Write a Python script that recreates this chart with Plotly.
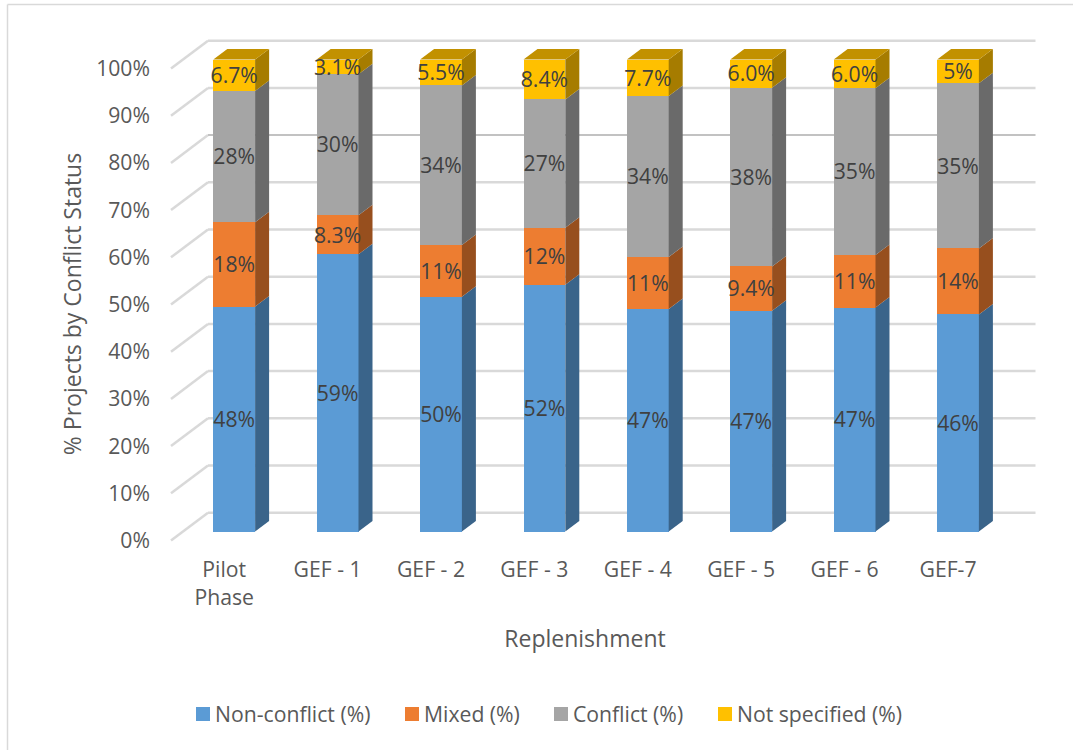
import plotly.graph_objects as go

# Project shares per GEF replenishment, stacked to 100% per phase
categories = ["Pilot<br>Phase", "GEF - 1", "GEF - 2", "GEF - 3", "GEF - 4", "GEF - 5", "GEF - 6", "GEF-7"]
non_conflict = [48, 59, 50, 52, 47, 47, 47, 46]
mixed = [18, 8.3, 11, 12, 11, 9.4, 11, 14]
conflict = [28, 30, 34, 27, 34, 38, 35, 35]
not_specified = [6.7, 3.1, 5.5, 8.4, 7.7, 6.0, 6.0, 5]
not_specified_text = ["6.7%", "3.1%", "5.5%", "8.4%", "7.7%", "6.0%", "6.0%", "5%"]
y_ticks = [0, 10, 20, 30, 40, 50, 60, 70, 80, 90, 100]

series = [
    ("Non-conflict (%)", non_conflict, [f"{v:g}%" for v in non_conflict], "#5B9BD5", "#3A648A"),
    ("Mixed (%)", mixed, [f"{v:g}%" for v in mixed], "#ED7D31", "#974F1E"),
    ("Conflict (%)", conflict, [f"{v:g}%" for v in conflict], "#A5A5A5", "#6A6A6A"),
    ("Not specified (%)", not_specified, not_specified_text, "#FFC000", "#A67C00"),
]
TOP_FACE = "#C29100"

# Page and plot geometry, in pixels
W, H = 1073, 750
PLOT_L, PLOT_R, PLOT_T, PLOT_B = 171, 999, 30, 578
ZERO_X, SLOT = 234.2, 103.4
ZERO_Y, UNIT = 531.6, 4.72
BAR_PX = 41.8
DEPTH_X, DEPTH_Y = 14 / SLOT, 10.5 / UNIT
FLOOR_FRONT = (ZERO_Y - 540.5) / UNIT
FLOOR_BACK = (ZERO_Y - 512.7) / UNIT
LABEL_DROP = 2.5 / UNIT
half = BAR_PX / SLOT / 2
xs = list(range(len(categories)))
totals = [sum(s[1][i] for s in series) for i in xs]

TEXT = "#595959"
FONT = "Open Sans"
FS = 21.2
TITLE_FS = 23


def px(v):
    return v / W


fig = go.Figure()

# Front faces: a percent-normalised stack
for name, vals, _, color, _ in series:
    fig.add_bar(x=xs, y=vals, name=name, width=2 * half, marker=dict(color=color, line=dict(width=0)),
                showlegend=False, hoverinfo="skip", cliponaxis=False)

# Side faces, one parallelogram per stacked segment, and the data labels
label_x, label_y, label_t = [], [], []
base = [0.0] * len(xs)
for name, vals, texts, color, side in series:
    for i in xs:
        share = vals[i] / totals[i] * 100
        lo, hi = base[i], base[i] + share
        r = i + half
        fig.add_scatter(x=[r, r + DEPTH_X, r + DEPTH_X, r, r],
                        y=[lo, lo + DEPTH_Y, hi + DEPTH_Y, hi, lo],
                        mode="lines", line=dict(width=0), fill="toself", fillcolor=side,
                        showlegend=False, hoverinfo="skip", cliponaxis=False)
        label_x.append(i)
        label_y.append((lo + hi) / 2 - LABEL_DROP)
        label_t.append(texts[i])
        base[i] = hi

# Top faces of the stacks
for i in xs:
    l, r = i - half, i + half
    fig.add_scatter(x=[l, r, r + DEPTH_X, l + DEPTH_X, l],
                    y=[base[i], base[i], base[i] + DEPTH_Y, base[i] + DEPTH_Y, base[i]],
                    mode="lines", line=dict(width=0), fill="toself", fillcolor=TOP_FACE,
                    showlegend=False, hoverinfo="skip", cliponaxis=False)

fig.add_scatter(x=label_x, y=label_y, text=label_t, mode="text", textposition="middle center",
                textfont=dict(family=FONT, size=FS, color="#404040"),
                showlegend=False, hoverinfo="skip", cliponaxis=False)

shapes = []
# Gridlines: a slanted run across the floor depth, then along the back wall
for v in y_ticks:
    back = dict(color="#C2C2C2", width=2) if v == 80 else dict(color="#D9D9D9", width=2.5)
    shapes.append(dict(type="line", xref="paper", yref="y", layer="below",
                       x0=px(171), x1=px(208), y0=v + FLOOR_FRONT, y1=v + FLOOR_BACK,
                       line=dict(color="#D9D9D9", width=2.5)))
    shapes.append(dict(type="line", xref="paper", yref="y", layer="below",
                       x0=px(208), x1=px(1035.5), y0=v + FLOOR_BACK, y1=v + FLOOR_BACK,
                       line=back))

# Chart frame
shapes.append(dict(type="line", xref="paper", yref="paper", x0=px(7.5), x1=px(7.5), y0=0, y1=1 - 4.5 / H,
                   line=dict(color="#D9D9D9", width=1.5)))
shapes.append(dict(type="line", xref="paper", yref="paper", x0=px(7.5), x1=1, y0=1 - 4.5 / H, y1=1 - 4.5 / H,
                   line=dict(color="#D9D9D9", width=1.5)))

# Legend row
annotations = []
legend_swatch_x = [196, 405, 554, 718]
for (name, _, _, color, _), sx in zip(series, legend_swatch_x):
    shapes.append(dict(type="rect", xref="paper", yref="paper", x0=px(sx), x1=px(sx + 14),
                       y0=1 - 721 / H, y1=1 - 707 / H, fillcolor=color, line=dict(width=0)))
    annotations.append(dict(xref="paper", yref="paper", x=px(sx + 18), y=1 - 713 / H, text=name,
                            showarrow=False, xanchor="left", yanchor="middle",
                            font=dict(family=FONT, size=FS, color=TEXT), borderpad=0))

fig.update_layout(
    width=W, height=H, barmode="stack", barnorm="percent",
    margin=dict(l=0, r=0, t=0, b=0), paper_bgcolor="white", plot_bgcolor="rgba(0,0,0,0)",
    shapes=shapes, annotations=annotations, showlegend=False,
    xaxis=dict(domain=[px(PLOT_L), px(PLOT_R)], anchor="free", position=1 - 555 / H,
               range=[(PLOT_L - ZERO_X) / SLOT, (PLOT_R - ZERO_X) / SLOT],
               tickmode="array", tickvals=[x - 10 / SLOT for x in xs], ticktext=categories,
               tickfont=dict(family=FONT, size=FS, color=TEXT), showgrid=False, zeroline=False,
               showline=False, ticks="", title=dict(text="Replenishment", standoff=21,
               font=dict(family=FONT, size=TITLE_FS, color=TEXT))),
    yaxis=dict(domain=[1 - PLOT_B / H, 1 - PLOT_T / H],
               range=[(ZERO_Y - PLOT_B) / UNIT, (ZERO_Y - PLOT_T) / UNIT],
               tickmode="array", tickvals=[v + FLOOR_FRONT for v in y_ticks], ticktext=[f"{v}%" for v in y_ticks],
               tickfont=dict(family=FONT, size=FS, color=TEXT), showgrid=False, zeroline=False,
               showline=False, ticks="", ticklabelstandoff=20,
               title=dict(text="% Projects by Conflict Status", standoff=8,
               font=dict(family=FONT, size=TITLE_FS, color=TEXT))),
)

fig.write_html("out.html")
